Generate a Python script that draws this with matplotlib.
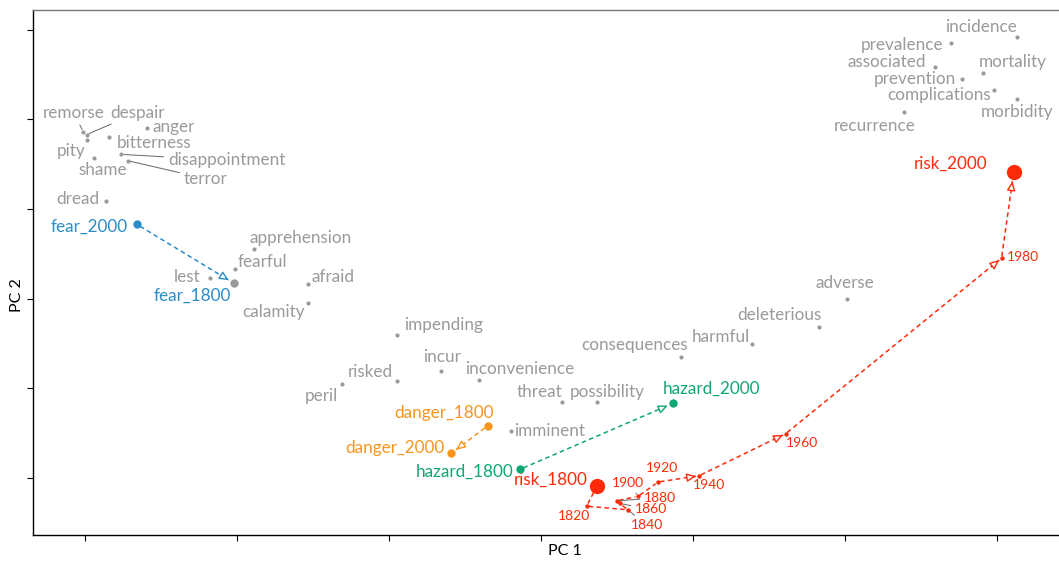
import matplotlib
matplotlib.use('Agg')
import matplotlib.pyplot as plt
import numpy as np

plt.rcParams['font.family'] = ['Lato', 'DejaVu Sans']

# neighbour words (grey), PC1 / PC2 coordinates
words = ['remorse', 'despair', 'pity', 'anger', 'bitterness', 'shame', 'disappointment',
         'terror', 'dread', 'apprehension', 'fearful', 'lest', 'afraid', 'calamity',
         'impending', 'risked', 'incur', 'inconvenience', 'peril', 'threat', 'possibility',
         'consequences', 'imminent', 'harmful', 'deleterious', 'adverse', 'incidence',
         'prevalence', 'associated', 'mortality', 'prevention', 'complications',
         'morbidity', 'recurrence']
wordX = [-3.01, -2.99, -2.99, -2.59, -2.84, -2.94, -2.76, -2.72, -2.86, -1.89, -2.01,
         -2.18, -1.53, -1.53, -0.95, -0.95, -0.66, -0.41, -1.31, 0.14, 0.37, 0.92, -0.20,
         1.39, 1.83, 2.01, 3.13, 2.70, 2.59, 2.91, 2.77, 2.98, 3.13, 2.39]
wordY = [1.86, 1.83, 1.77, 1.91, 1.80, 1.57, 1.61, 1.54, 1.09, 0.55, 0.33, 0.23, 0.16,
         -0.05, -0.41, -0.92, -0.81, -0.91, -0.96, -1.16, -1.16, -0.65, -1.48, -0.51,
         -0.32, 0.00, 2.92, 2.85, 2.59, 2.52, 2.45, 2.33, 2.23, 2.08]

# target words, arrow from start to end
targets = ['fear', 'danger', 'hazard']
startLabels = ['fear_2000', 'danger_1800', 'hazard_1800']
endLabels = ['fear_1800', 'danger_2000', 'hazard_2000']
startX = [-2.66, -0.35, -0.14]
startY = [0.83, -1.42, -1.91]
endX = [-2.02, -0.59, 0.87]
endY = [0.17, -1.73, -1.17]

# risk trajectory by decade
riskLabels = ['risk_1800', '1820', '1840', '1860', '1880', '1900', '1920', '1940',
              '1960', '1980', 'risk_2000']
riskX = [0.37, 0.30, 0.57, 0.52, 0.50, 0.64, 0.77, 1.04, 1.61, 3.03, 3.11]
riskY = [-2.09, -2.32, -2.36, -2.29, -2.26, -2.21, -2.05, -1.98, -1.51, 0.45, 1.41]

grey = '#9a9a9a'
colours = {'fear': '#2a8cc8', 'danger': '#f8951d', 'hazard': '#0fa776', 'risk': '#ff2a0a'}

# label offsets in pixels (dx, dy up), plus whether a leader line is drawn
offsets = {
    'remorse': (-10, 19, True), 'despair': (51, 22, True), 'pity': (-15, -11, False),
    'anger': (26, 1, False), 'bitterness': (45, -6, False), 'shame': (9, -12, False),
    'disappointment': (105, -6, True), 'terror': (78, -18, True), 'dread': (-28, 2, False),
    'apprehension': (47, 11, False), 'fearful': (27, 7, False), 'lest': (-23, 1, False),
    'afraid': (25, 7, False), 'calamity': (-35, -9, False), 'impending': (47, 10, False),
    'risked': (-26, 9, False), 'incur': (1, 14, False), 'inconvenience': (41, 11, False),
    'peril': (-20, -12, False), 'threat': (-23, 10, False), 'possibility': (10, 10, False),
    'consequences': (-46, 12, False), 'imminent': (39, 0, False), 'harmful': (-31, 7, False),
    'deleterious': (-40, 12, False), 'adverse': (-2, 16, False),
    'incidence': (-36, 10, False), 'prevalence': (-49, -2, False),
    'associated': (-48, 5, False), 'mortality': (29, 11, False),
    'prevention': (-47, 0, False), 'complications': (-55, -5, False),
    'morbidity': (0, -13, False), 'recurrence': (-30, -14, False),
    'fear_2000': (-47, -3, False), 'fear_1800': (-42, -13, False),
    'danger_1800': (-44, 13, False), 'danger_2000': (-56, 5, False),
    'hazard_1800': (-55, -2, False), 'hazard_2000': (38, 14, False),
    'risk_1800': (-47, 6, False), '1820': (-13, -10, False), '1840': (19, -15, True),
    '1860': (31, -6, True), '1880': (43, 3, True), '1900': (-10, 13, True),
    '1920': (4, 14, False), '1940': (10, -9, False), '1960': (16, -9, False),
    '1980': (21, 1, False), 'risk_2000': (-63, 8, False),
}

W, H = 1059, 562
fig = plt.figure(figsize=(W / 100, H / 100), dpi=100)
ax = fig.add_axes([33 / W, 27 / H, (1097 - 33) / W, 525 / H])
ax.set_xlim(-3.342, 3.658)
ax.set_ylim(-2.642, 3.223)
ax.set_xticks(np.arange(-3, 4))
ax.set_yticks(np.arange(-2, 4))
ax.set_xticklabels([])
ax.set_yticklabels([])
ax.tick_params(length=4, width=0.8, color='black')
for side in ['left', 'bottom']:
    ax.spines[side].set_color('black')
    ax.spines[side].set_linewidth(1.0)
ax.spines['top'].set_color('#777777')
ax.spines['top'].set_linewidth(1.0)
ax.spines['right'].set_visible(False)

fig.text(565 / W, 1 - 551 / H, 'PC 1', ha='center', va='center', fontsize=11.5)
fig.text(17 / W, 1 - 295 / H, 'PC 2', ha='center', va='center', fontsize=11.5, rotation=90)


def label(name, x, y, colour, size):
    dx, dy, leader = offsets[name]
    props = None
    if leader:
        props = dict(arrowstyle='-', color='#666666', lw=0.7, shrinkA=1, shrinkB=2)
    ax.annotate(name, (x, y), xytext=(dx, dy), textcoords='offset pixels',
                ha='center', va='center', color=colour, fontsize=size, arrowprops=props)


def dashed_arrow(x0, y0, x1, y1, colour, gap0=4, gap1=6, head=True):
    p0 = ax.transData.transform((x0, y0))
    p1 = ax.transData.transform((x1, y1))
    d = p1 - p0
    u = d / np.hypot(*d)
    a = p0 + u * gap0
    b = p1 - u * gap1
    inv = ax.transData.inverted()
    a_d, b_d = inv.transform(a), inv.transform(b)
    ax.plot([a_d[0], b_d[0]], [a_d[1], b_d[1]], color=colour, lw=1.1,
            linestyle=(0, (3, 2.2)), zorder=2)
    if head:
        h0 = inv.transform(b - u * 8)
        ax.annotate('', xy=b_d, xytext=h0,
                    arrowprops=dict(arrowstyle='-|>,head_length=0.55,head_width=0.25',
                                    fc='white', ec=colour, lw=1.0, shrinkA=0, shrinkB=0),
                    zorder=3)


# grey neighbours
ax.plot(wordX, wordY, 'o', color=grey, ms=3, mec='none', zorder=3)
for w, x, y in zip(words, wordX, wordY):
    label(w, x, y, grey, 12.3)

# fear / danger / hazard
for i, t in enumerate(targets):
    col = colours[t]
    dashed_arrow(startX[i], startY[i], endX[i], endY[i], col)
    ax.plot(startX[i], startY[i], 'o', color=col, ms=6, mec='none', zorder=4)
    endCol = grey if t == 'fear' else col
    ax.plot(endX[i], endY[i], 'o', color=endCol, ms=6, mec='none', zorder=4)
    label(startLabels[i], startX[i], startY[i], col, 12.3)
    label(endLabels[i], endX[i], endY[i], col, 12.3)

# risk trajectory (heads only drawn from 1920 on)
rc = colours['risk']
for i in range(len(riskX) - 1):
    g0 = 8 if i == 0 else 2
    g1 = 9 if i == len(riskX) - 2 else 3
    dashed_arrow(riskX[i], riskY[i], riskX[i + 1], riskY[i + 1], rc, g0, g1, head=i >= 6)
for lab, x, y in zip(riskLabels, riskX, riskY):
    big = lab.startswith('risk')
    ax.plot(x, y, 'o', color=rc, ms=11 if big else 3.2, mec='none', zorder=4)
    label(lab, x, y, rc, 12.3 if big else 10)

fig.savefig('out.png', dpi=100)
